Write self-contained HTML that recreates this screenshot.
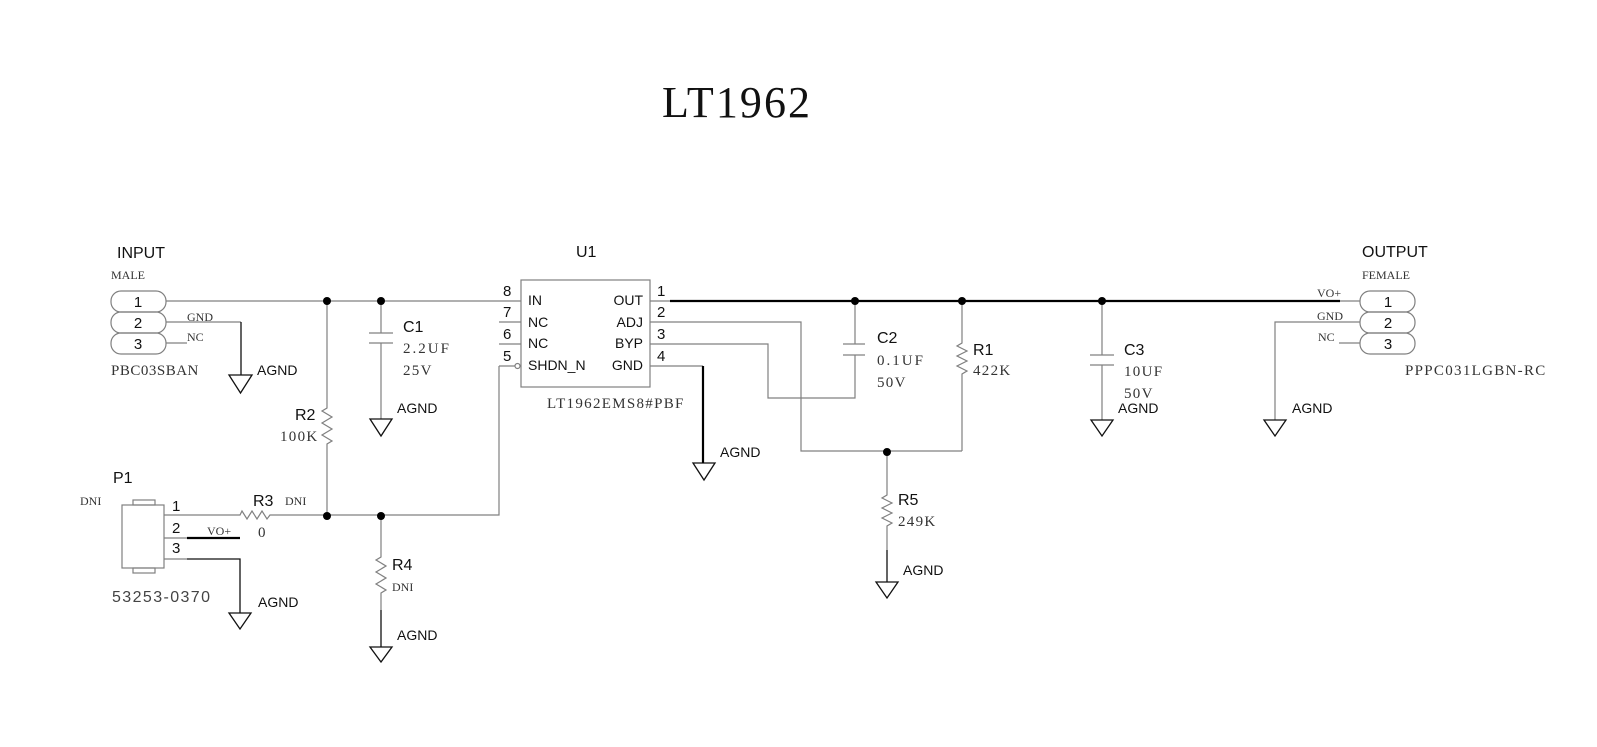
<!DOCTYPE html>
<html><head><meta charset="utf-8"><style>
html,body{margin:0;padding:0;background:#fff;}
svg{display:block;}
.s{font-family:"Liberation Sans",sans-serif;fill:#111;}
.f{font-family:"Liberation Serif",serif;fill:#333;}
</style></head><body>
<svg width="1597" height="747" viewBox="0 0 1597 747" xmlns="http://www.w3.org/2000/svg">
<g fill="none" stroke="#808080" stroke-width="1.2">
<rect x="111" y="291" width="55" height="21" rx="10"/>
<rect x="111" y="312" width="55" height="21" rx="10"/>
<rect x="111" y="333" width="55" height="21" rx="10"/>
<rect x="1360" y="291" width="55" height="21" rx="10"/>
<rect x="1360" y="312" width="55" height="21" rx="10"/>
<rect x="1360" y="333" width="55" height="21" rx="10"/>
<path d="M166 301 H499"/>
<path d="M499 301 H521 M499 322 H521 M499 344 H521 M499 366 H515"/>
<circle cx="517.5" cy="366" r="2.5"/>
<path d="M166 343 H187"/>
<path d="M381 301 V333 M369 333 H393 M369 343 H393 M381 343 V419"/>
<path d="M327 301 V408 l-5 3 l10 6 l-10 6 l10 6 l-10 6 l10 6 l-5 3 V516"/>
<rect x="521" y="280" width="129" height="107"/>
<path d="M650 301 H670 M650 322 H801 V451 H962 M650 344 H768 V398 H855 V355 M843 355 H865 M843 344 H865 M855 301 V344 M650 366 H703"/>
<path d="M962 301 V343 l-5 3 l10 5 l-10 5 l10 5 l-10 5 l10 5 l-5 3 V451"/>
<path d="M887 452 V495 l-5 3 l10 5 l-10 5 l10 5 l-10 5 l10 5 l-5 3 V550"/>
<path d="M1102 301 V355 M1090 355 H1114 M1090 365 H1114 M1102 365 V420"/>
<path d="M1340 301 H1360 M1360 322 H1275 V420 M1339 343 H1360"/>
<rect x="122" y="505" width="42" height="63"/>
<rect x="133" y="500" width="22" height="5"/>
<rect x="133" y="568" width="22" height="5"/>
<path d="M164 515 H240 l2 -4 l5 8 l5 -8 l5 8 l5 -8 l5 8 l3 -4 H499 V366"/>
<path d="M164 538 H187 M164 559 H187"/>
<path d="M381 516 V557 l-5 3 l10 6 l-10 6 l10 6 l-10 6 l10 6 l-5 3 V610"/>
<path d="M241 322 H166"/>
</g>
<g fill="none" stroke="#111" stroke-width="1.3">
<path d="M241 322 V375"/>
<path d="M229 375 H252 L240.5 393 Z"/>
<path d="M370 419 H392 L381 436 Z"/>
<path d="M693 463 H715 L704 480 Z"/>
<path d="M876 582 H898 L887 598 Z"/>
<path d="M1091 420 H1113 L1102 436 Z"/>
<path d="M1264 420 H1286 L1275 436 Z"/>
<path d="M229 613 H251 L240 629 Z"/>
<path d="M370 647 H392 L381 662 Z"/>
<path d="M187 559 H240 V613"/>
<path d="M887 550 V582 M381 610 V647"/>
</g>
<g stroke="#000" stroke-width="2.2" fill="none">
<path d="M670 301 H1340"/>
<path d="M703 366 V463"/>
<path d="M187 538 H240"/>
</g>
<g fill="#000">
<circle cx="327" cy="301" r="4"/><circle cx="381" cy="301" r="4"/>
<circle cx="855" cy="301" r="4"/><circle cx="962" cy="301" r="4"/>
<circle cx="1102" cy="301" r="4"/><circle cx="887" cy="452" r="4"/>
<circle cx="327" cy="516" r="4"/><circle cx="381" cy="516" r="4"/>
</g>
<text class="f" x="662" y="117" font-size="44" textLength="148" style="fill:#111">LT1962</text>
<g class="s" font-size="16">
<text x="117" y="258">INPUT</text>
<text x="1362" y="257">OUTPUT</text>
<text x="576" y="257">U1</text>
<text x="403" y="332">C1</text>
<text x="877" y="343">C2</text>
<text x="1124" y="355">C3</text>
<text x="973" y="355">R1</text>
<text x="898" y="505">R5</text>
<text x="295" y="420">R2</text>
<text x="253" y="506">R3</text>
<text x="392" y="570">R4</text>
<text x="113" y="483">P1</text>
</g>
<g class="s" font-size="15" text-anchor="middle">
<text x="138" y="307">1</text><text x="138" y="328">2</text><text x="138" y="349">3</text>
<text x="1388" y="307">1</text><text x="1388" y="328">2</text><text x="1388" y="349">3</text>
</g>
<g class="s" font-size="14">
<text x="257" y="375">AGND</text>
<text x="397" y="413">AGND</text>
<text x="720" y="457">AGND</text>
<text x="903" y="575">AGND</text>
<text x="1118" y="413">AGND</text>
<text x="1292" y="413">AGND</text>
<text x="258" y="607">AGND</text>
<text x="397" y="640">AGND</text>
<text x="528" y="305">IN</text>
<text x="528" y="327">NC</text>
<text x="528" y="348">NC</text>
<text x="528" y="370">SHDN_N</text>
<text x="643" y="305" text-anchor="end">OUT</text>
<text x="643" y="327" text-anchor="end">ADJ</text>
<text x="643" y="348" text-anchor="end">BYP</text>
<text x="643" y="370" text-anchor="end">GND</text>
</g>
<g class="s" font-size="15">
<text x="503" y="296">8</text><text x="503" y="317">7</text><text x="503" y="339">6</text><text x="503" y="361">5</text>
<text x="657" y="296">1</text><text x="657" y="317">2</text><text x="657" y="339">3</text><text x="657" y="361">4</text>
<text x="172" y="511">1</text><text x="172" y="533">2</text><text x="172" y="553">3</text>
</g>
<g class="f" font-size="15" letter-spacing="1.3">
<text x="111" y="375" letter-spacing="0.5">PBC03SBAN</text>
<text x="547" y="408">LT1962EMS8#PBF</text>
<text x="1405" y="375">PPPC031LGBN-RC</text>
<text x="403" y="353" letter-spacing="2">2.2UF</text>
<text x="403" y="375">25V</text>
<text x="877" y="365" letter-spacing="2">0.1UF</text>
<text x="877" y="387">50V</text>
<text x="973" y="375">422K</text>
<text x="898" y="526">249K</text>
<text x="1124" y="376">10UF</text>
<text x="1124" y="398">50V</text>
<text x="280" y="441">100K</text>
<text x="258" y="537">0</text>
</g>
<g class="f" font-size="12">
<text x="111" y="279">MALE</text>
<text x="187" y="321">GND</text>
<text x="187" y="341">NC</text>
<text x="1362" y="279">FEMALE</text>
<text x="1317" y="297">VO+</text>
<text x="1317" y="320">GND</text>
<text x="1318" y="341">NC</text>
<text x="80" y="505">DNI</text>
<text x="285" y="505">DNI</text>
<text x="392" y="591">DNI</text>
<text x="207" y="535">VO+</text>
</g>
<text class="s" x="112" y="602" font-size="16" textLength="98" style="fill:#444">53253-0370</text>
</svg>
</body></html>
